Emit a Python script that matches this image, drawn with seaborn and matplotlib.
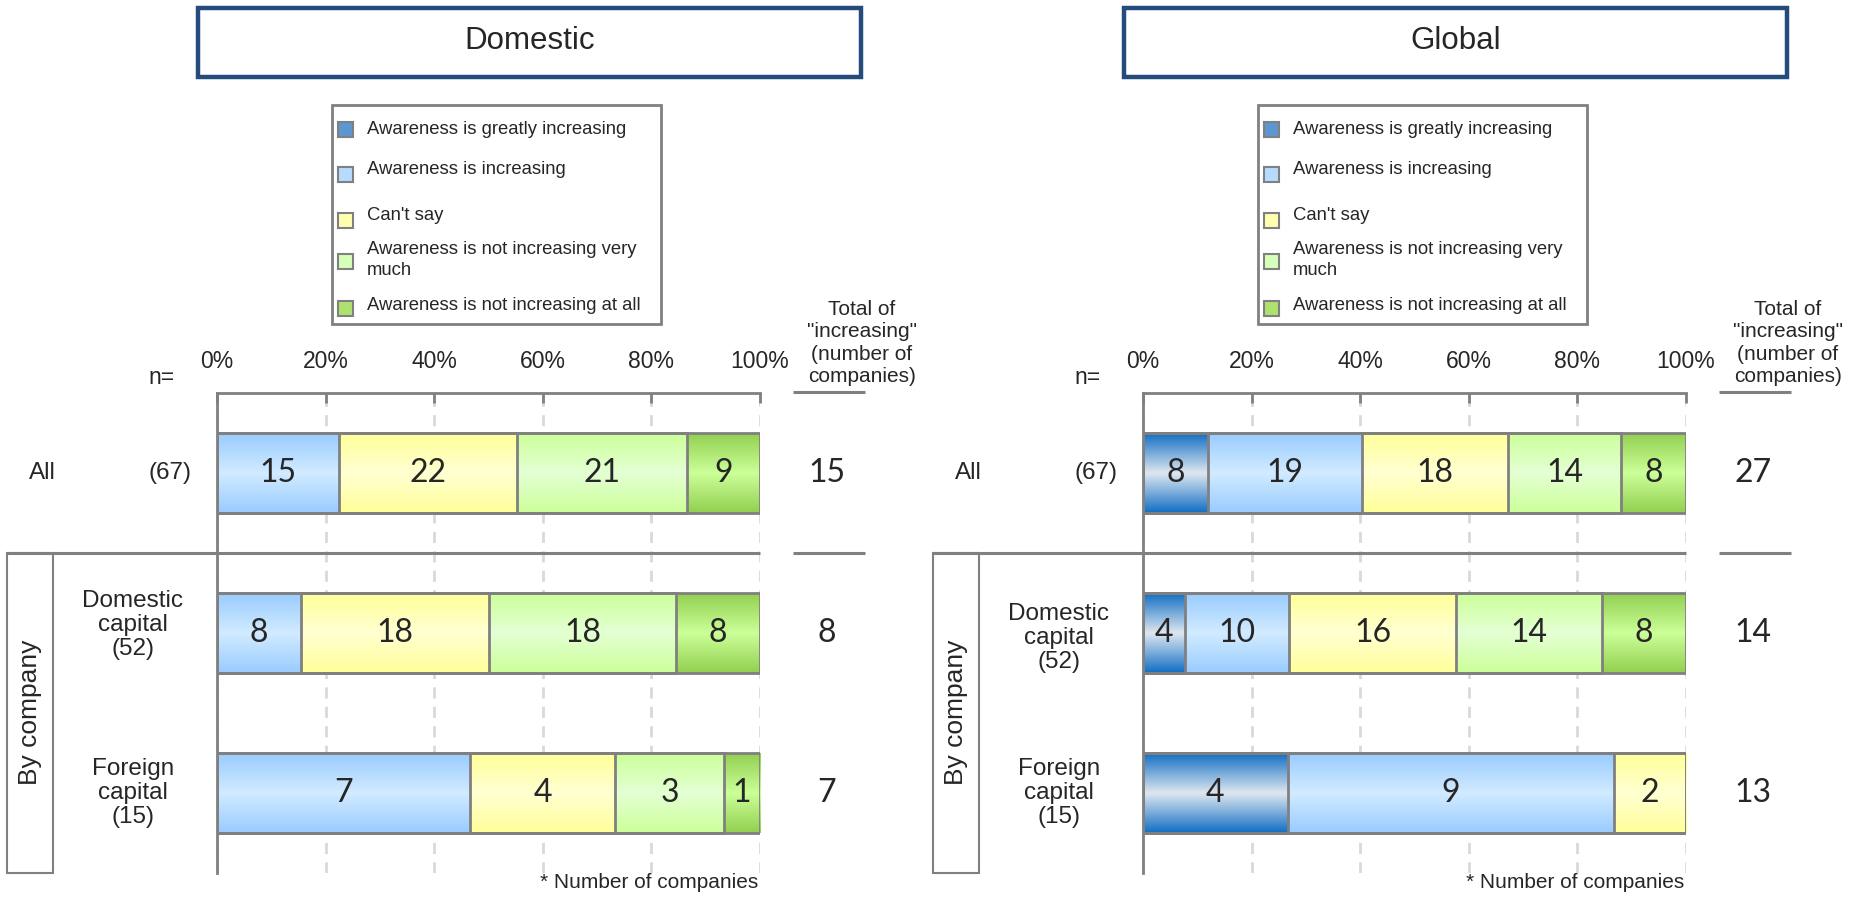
import matplotlib
matplotlib.use('Agg')
import matplotlib.pyplot as plt
import matplotlib.patches as mpatches
import matplotlib.transforms as mtransforms
from matplotlib.lines import Line2D
from matplotlib.colors import to_rgb
from matplotlib.ticker import PercentFormatter
import numpy as np
import pandas as pd
import seaborn as sns

W, H = 1862, 902

categories = ['Awareness is greatly increasing', 'Awareness is increasing', "Can't say",
              'Awareness is not increasing very much', 'Awareness is not increasing at all']
legend_labels = ['Awareness is greatly increasing', 'Awareness is increasing', "Can't say",
                 'Awareness is not increasing very\nmuch', 'Awareness is not increasing at all']
rows = ['All', 'Domestic capital', 'Foreign capital']
row_n = [67, 52, 15]

# number of companies per answer (rows x categories)
domestic_counts = [[0, 15, 22, 21, 9],
                   [0, 8, 18, 18, 8],
                   [0, 7, 4, 3, 1]]
global_counts = [[8, 19, 18, 14, 8],
                 [4, 10, 16, 14, 8],
                 [4, 9, 2, 0, 0]]
domestic_totals = [15, 8, 7]
global_totals = [27, 14, 13]

edge_colors = ['#1370c4', '#99ccff', '#ffff99', '#ccff99', '#92d050']
mid_colors = ['#dfe7f0', '#d2ebff', '#ffffd2', '#e4ffd4', '#ccff99']
flat_colors = ['#5b97d0', '#b5dcff', '#ffffb0', '#d6ffb8', '#aee270']

GREY = '#808080'

sns.set_style('white')
plt.rcParams['font.family'] = ['Liberation Sans', 'DejaVu Sans']

fig = plt.figure(figsize=(W / 100, H / 100), dpi=100)


def fx(x):
    return x / W


def fy(y):
    return 1 - y / H


def gradient(c_edge, c_mid, n=64):
    t = np.linspace(0, 1, n)
    w = 1 - np.abs(2 * t - 1)
    e, m = np.array(to_rgb(c_edge)), np.array(to_rgb(c_mid))
    return (e + (m - e) * w[:, None])[:, None, :]


def fig_line(x0, x1, y0, y1, lw=2.2, color=GREY):
    fig.add_artist(Line2D([fx(x0), fx(x1)], [fy(y0), fy(y1)], transform=fig.transFigure,
                          color=color, lw=lw, solid_capstyle='butt'))


def fig_rect(x0, y0, x1, y1, **kw):
    fig.add_artist(mpatches.Rectangle((fx(x0), fy(y1)), (x1 - x0) / W, (y1 - y0) / H,
                                      transform=fig.transFigure, **kw))


def draw_panel(ox, title, counts, totals, dom_shift):
    ax = fig.add_axes([fx(217 + ox), fy(873), 543 / W, 480 / H])

    recs = []
    for r, row in enumerate(rows):
        cum = 0
        for c, cat in enumerate(categories):
            v = counts[r][c]
            recs.append(dict(row=row, r=r, c=c, cat=cat, count=v,
                             start=cum / row_n[r] * 100, end=(cum + v) / row_n[r] * 100))
            cum += v
    df = pd.DataFrame(recs)

    # stacked bars: draw cumulative totals from the last category down
    for c in reversed(range(len(categories))):
        sub = df[df['c'] == c]
        sns.barplot(data=sub, x='end', y='row', order=rows, orient='h', color=flat_colors[c],
                    saturation=1, width=0.5, errorbar=None, edgecolor=GREY, linewidth=2,
                    zorder=3, ax=ax)
    for p in ax.patches:
        p.set_facecolor('none')

    for _, rec in df.iterrows():
        if rec['count'] == 0:
            continue
        r, c = rec['r'], rec['c']
        ax.imshow(gradient(edge_colors[c], mid_colors[c]), extent=[rec['start'], rec['end'], r + 0.25, r - 0.25],
                  aspect='auto', zorder=2, interpolation='bilinear')
        ax.text((rec['start'] + rec['end']) / 2, r, str(rec['count']), ha='center', va='center',
                fontsize=23, family='Lato', zorder=4)

    ax.set_xlim(0, 100)
    ax.set_ylim(2.5, -0.5)
    ax.set_xlabel('')
    ax.set_ylabel('')
    ax.set_yticks([])
    ax.set_xticks(range(0, 101, 20))
    ax.xaxis.set_major_formatter(PercentFormatter(decimals=0))
    ax.xaxis.set_ticks_position('top')
    ax.tick_params(axis='x', direction='in', length=7, width=2, color=GREY, pad=14.5,
                   labelsize=16.5, top=True, bottom=False, labeltop=True, labelbottom=False)
    ax.grid(axis='x', color='#d9d9d9', lw=2, linestyle=(0, (4, 3)))
    ax.set_axisbelow(True)
    for side in ['right', 'bottom']:
        ax.spines[side].set_visible(False)
    for side in ['top', 'left']:
        ax.spines[side].set_color(GREY)
        ax.spines[side].set_linewidth(2)

    # totals column
    blend = mtransforms.blended_transform_factory(fig.transFigure, ax.transData)
    for r, t in enumerate(totals):
        ax.text(fx(827 + ox), r, str(t), transform=blend, ha='center', va='center',
                fontsize=23, family='Lato')

    # row labels
    ax.text(fx(42 + ox), 0, rows[0], transform=blend, ha='center', va='center', fontsize=17.5)
    ax.text(fx(170 + ox), 0, f'({row_n[0]})', transform=blend, ha='center', va='center', fontsize=17.5)
    for r in (1, 2):
        label = rows[r].replace(' ', '\n') + f'\n({row_n[r]})'
        ax.text(fx(133 + ox), r + dom_shift if r == 1 else r, label, transform=blend, ha='center',
                va='center', fontsize=17.5, linespacing=1.12)

    # title box
    fig_rect(198 + ox, 8, 860.5 + ox, 76.5, fill=False, edgecolor='#254a7c', lw=3.2)
    fig.text(fx(530 + ox), fy(41), title, ha='center', va='center', fontsize=22.5)

    # legend box
    fig_rect(331.5 + ox, 105, 660.5 + ox, 324, fill=False, edgecolor=GREY, lw=2)
    patch_y = [129, 174, 220, 261, 308]
    text_y = [129, 169, 215, 260, 305]
    for i, lab in enumerate(legend_labels):
        fig_rect(338 + ox, patch_y[i] - 7.5, 353 + ox, patch_y[i] + 7.5,
                 facecolor=flat_colors[i], edgecolor=GREY, lw=1.5)
        fig.text(fx(367 + ox), fy(text_y[i]), lab, ha='left', va='center', fontsize=13.3, linespacing=1.35)

    fig.text(fx(161 + ox), fy(377), 'n=', ha='center', va='center', fontsize=16.5)
    fig.text(fx(862 + ox), fy(343), 'Total of\n"increasing"\n(number of\ncompanies)',
             ha='center', va='center', fontsize=15, linespacing=1.24)
    fig_line(793 + ox, 865 + ox, 392, 392)

    # separator and "By company" frame
    fig_line(7 + ox, 760 + ox, 553, 553)
    fig_line(793 + ox, 865 + ox, 553, 553)
    fig_rect(7 + ox, 553, 53 + ox, 873, fill=False, edgecolor=GREY, lw=1.5)
    fig.text(fx(30 + ox), fy(712), 'By company', rotation=90, ha='center', va='center', fontsize=19)

    fig.text(fx(758 + ox), fy(883), '* Number of companies', ha='right', va='center', fontsize=15)
    return ax


draw_panel(0, 'Domestic', domestic_counts, domestic_totals, -0.05)
draw_panel(926, 'Global', global_counts, global_totals, 0.03)

fig.savefig('out.png', dpi=100)
